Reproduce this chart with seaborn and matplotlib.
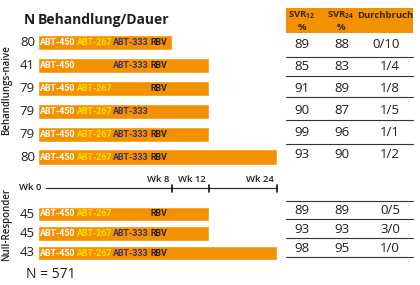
import numpy as np
import matplotlib
matplotlib.use("Agg")
import matplotlib.pyplot as plt
import matplotlib.transforms as mtransforms
from matplotlib.lines import Line2D
from matplotlib.patches import Rectangle
import seaborn as sns
import pandas as pd

# ---------------- data ----------------
naive_n = [80, 41, 79, 79, 79, 80]
naive_weeks = [8, 12, 12, 12, 12, 24]
naive_drugs = [
    ["ABT-450", "ABT-267", "ABT-333", "RBV"],
    ["ABT-450", "ABT-333", "RBV"],
    ["ABT-450", "ABT-267", "RBV"],
    ["ABT-450", "ABT-267", "ABT-333"],
    ["ABT-450", "ABT-267", "ABT-333", "RBV"],
    ["ABT-450", "ABT-267", "ABT-333", "RBV"],
]
naive_svr12 = [89, 85, 91, 90, 99, 93]
naive_svr24 = [88, 83, 89, 87, 96, 90]
naive_break = ["0/10", "1/4", "1/8", "1/5", "1/1", "1/2"]

null_n = [45, 45, 43]
null_weeks = [12, 12, 24]
null_drugs = [
    ["ABT-450", "ABT-267", "RBV"],
    ["ABT-450", "ABT-267", "ABT-333", "RBV"],
    ["ABT-450", "ABT-267", "ABT-333", "RBV"],
]
null_svr12 = [89, 93, 98]
null_svr24 = [89, 93, 95]
null_break = ["0/5", "3/0", "1/0"]

timeline_weeks = [8, 12, 24]
drug_order = ["ABT-450", "ABT-267", "ABT-333", "RBV"]
total_n = 571

# ---------------- style ----------------
sns.set_theme(style="white")
plt.rcParams["font.family"] = ["Open Sans", "DejaVu Sans"]
plt.rcParams["mathtext.default"] = "regular"

ORANGE = "#F39200"
TXT = "#231f20"
HDR = "#3a2410"
drug_colors = {"ABT-450": "white", "ABT-267": "#FFE000",
               "ABT-333": "#3E2F6B", "RBV": "#2a1a0a"}
NARROW = ["Roboto", "DejaVu Sans"]

W, H = 420, 285
fig = plt.figure(figsize=(W / 100, H / 100), dpi=100)
fig.patch.set_facecolor("white")

def fx(p):
    return p / W

def fy(p):
    return 1 - p / H

# schematic (non-linear) week scale used in the original
WK = [0, 8, 12, 24]
PX = [0, 134, 171, 239]
def fwd(w):
    return np.interp(w, WK, PX)
def inv(p):
    return np.interp(p, PX, WK)

X0, X1 = 38, 277
slot_px = [2, 38.5, 75, 112.5]

def make_group(top, bottom, n, weeks, drugs, barw):
    ax = fig.add_axes([fx(X0), fy(bottom), fx(X1 - X0), (bottom - top) / H])
    df = pd.DataFrame({"row": [f"r{i}" for i in range(len(n))], "weeks": weeks})
    sns.barplot(data=df, x="weeks", y="row", orient="h", color=ORANGE,
                saturation=1, width=barw, errorbar=None, ax=ax)
    ax.set_xscale("function", functions=(fwd, inv))
    ax.set_xlim(0, 24)
    ax.axis("off")
    tr = mtransforms.blended_transform_factory(ax.transAxes, ax.transData)
    for i, (nn, dl) in enumerate(zip(n, drugs)):
        ax.text(-3 / (X1 - X0), i, str(nn), transform=tr, ha="right",
                va="center", fontsize=9.5, color=TXT)
        for d in dl:
            k = drug_order.index(d)
            ax.text(slot_px[k] / (X1 - X0), i, d, transform=tr, ha="left",
                    va="center", fontsize=6.4, fontweight="bold",
                    family=NARROW, color=drug_colors[d])
    return ax

make_group(31, 168.5, naive_n, naive_weeks, naive_drugs, 0.66)
make_group(204.25, 262.75, null_n, null_weeks, null_drugs, 0.74)

# timeline
axt = fig.add_axes([fx(X0), fy(196), fx(X1 - X0), 20 / H])
axt.set_xscale("function", functions=(fwd, inv))
axt.set_xlim(0, 24)
axt.set_ylim(0, 20)
axt.axis("off")
axt.plot([inv(8), 24], [8, 8], color="#333333", lw=0.9, clip_on=False)
for w in timeline_weeks:
    axt.plot([w, w], [4.5, 11.5], color="#111111", lw=1.2, clip_on=False)
    axt.annotate(f"Wk {w}", (w, 12), xytext=(-2, 0), textcoords="offset points",
                 ha="right", va="bottom", fontsize=6.8, fontweight="semibold",
                 color=TXT)
axt.annotate("Wk 0", (inv(8), 8), xytext=(-3, 0), textcoords="offset points",
             ha="right", va="center", fontsize=6.8, fontweight="semibold",
             color=TXT)

# headers
fig.text(fx(24), fy(20), "N", fontsize=10, fontweight="bold", va="center", color=TXT)
fig.text(fx(38), fy(20), "Behandlung/Dauer", fontsize=10, fontweight="bold",
         va="center", color=TXT)
fig.text(fx(7), fy(90), "Behandlungs-naive", rotation=90, fontsize=7,
         fontweight="semibold", ha="center", va="center", color=TXT)
fig.text(fx(7), fy(224), "Null-Responder", rotation=90, fontsize=7,
         fontweight="semibold", ha="center", va="center", color=TXT)
fig.text(fx(26), fy(275), f"N = {total_n}", fontsize=10, va="center", color=TXT)

# table
fig.add_artist(Rectangle((fx(286), fy(33)), fx(413 - 286), 25 / H,
                         transform=fig.transFigure, facecolor=ORANGE,
                         edgecolor="none"))
c1, c2, c3r, c3c = 302, 341, 400, 385
hkw = dict(fontsize=6.8, fontweight="bold", ha="center", va="center", color=HDR)
fig.text(fx(c1), fy(15), "SVR$_{12}$", **hkw)
fig.text(fx(c1), fy(27), "%", **hkw)
fig.text(fx(c2), fy(15), "SVR$_{24}$", **hkw)
fig.text(fx(c2), fy(27), "%", **hkw)
fig.text(fx(c3c), fy(15), "Durchbruch", **hkw)

def table_rows(ys, s12, s24, br, lines):
    for y, a, b, c in zip(ys, s12, s24, br):
        fig.text(fx(c1), fy(y), str(a), fontsize=9.5, ha="center", va="center", color=TXT)
        fig.text(fx(c2 + 1), fy(y), str(b), fontsize=9.5, ha="center", va="center", color=TXT)
        fig.text(fx(c3r), fy(y), c, fontsize=9.5, ha="right", va="center", color=TXT)
    for ly in lines:
        fig.add_artist(Line2D([fx(286), fx(413)], [fy(ly), fy(ly)],
                              transform=fig.transFigure, color="#333333", lw=0.8))

table_rows([45, 66.5, 88, 110.5, 133, 155], naive_svr12, naive_svr24, naive_break,
           [57, 76.5, 97, 120, 143.5])
table_rows([210, 229.5, 248], null_svr12, null_svr24, null_break,
           [200.5, 219, 237.5, 256.5])

fig.savefig("out.png", dpi=100, facecolor="white")
